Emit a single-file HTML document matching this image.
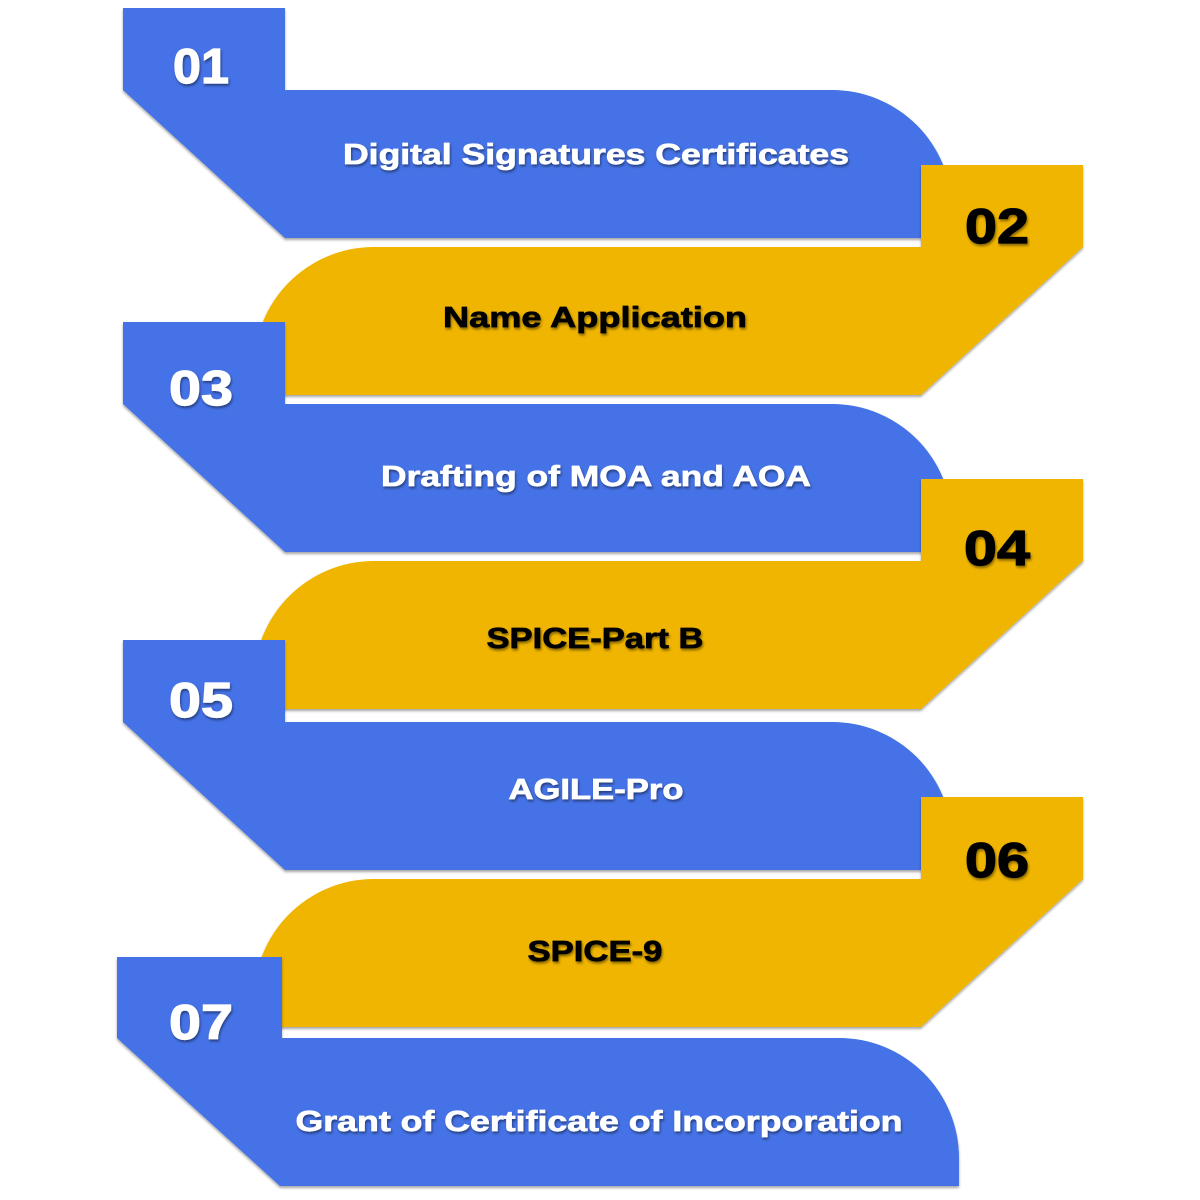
<!DOCTYPE html>
<html>
<head>
<meta charset="utf-8">
<style>
  html, body { margin: 0; padding: 0; background: #ffffff; }
  body { width: 1200px; height: 1200px; overflow: hidden; }
  svg { display: block; }
  .lbl { font-family: "Liberation Sans", "DejaVu Sans", sans-serif; font-weight: 700; }
</style>
</head>
<body>
<svg width="1200" height="1200" viewBox="0 0 1200 1200" xmlns="http://www.w3.org/2000/svg">
  <defs>
    <filter id="sh" x="-5%" y="-5%" width="110%" height="115%">
      <feDropShadow dx="0" dy="2" stdDeviation="1.2" flood-color="#000" flood-opacity="0.35"/>
    </filter>
    <filter id="tsh" x="-5%" y="-20%" width="110%" height="150%">
      <feDropShadow dx="1" dy="2" stdDeviation="1.2" flood-color="#000" flood-opacity="0.45"/>
    </filter>
  </defs>
  <rect width="1200" height="1200" fill="#ffffff"/>

  <!-- 01 blue -->
  <path filter="url(#sh)" fill="#4472E6" d="M123,8 L285,8 L285,90 L832,90 A120,120 0 0 1 952,210 L952,238 L285,238 L123,90 Z"/>
  <!-- 02 yellow -->
  <path filter="url(#sh)" fill="#F0B505" d="M1083,165 L921,165 L921,247 L374,247 A120,120 0 0 0 254,367 L254,395 L921,395 L1083,247 Z"/>
  <!-- 03 blue -->
  <path filter="url(#sh)" fill="#4472E6" d="M123,322 L285,322 L285,404 L832,404 A120,120 0 0 1 952,524 L952,552 L285,552 L123,404 Z"/>
  <!-- 04 yellow -->
  <path filter="url(#sh)" fill="#F0B505" d="M1083,479 L921,479 L921,561 L374,561 A120,120 0 0 0 254,681 L254,709 L921,709 L1083,561 Z"/>
  <!-- 05 blue -->
  <path filter="url(#sh)" fill="#4472E6" d="M123,640 L285,640 L285,722 L832,722 A120,120 0 0 1 952,842 L952,870 L285,870 L123,722 Z"/>
  <!-- 06 yellow -->
  <path filter="url(#sh)" fill="#F0B505" d="M1083,797 L921,797 L921,879 L374,879 A120,120 0 0 0 254,999 L254,1027 L921,1027 L1083,879 Z"/>
  <!-- 07 blue -->
  <path filter="url(#sh)" fill="#4472E6" d="M117,957 L282,957 L282,1038 L839,1038 A120,120 0 0 1 959,1158 L959,1186 L280,1186 L117,1038 Z"/>

  <!-- Numbers -->
  <g class="lbl" font-size="49" text-anchor="middle" filter="url(#tsh)">
    <text x="201" y="83" fill="#ffffff" stroke="#ffffff" stroke-width="1.2" textLength="56" lengthAdjust="spacingAndGlyphs">01</text>
    <text x="997" y="243" fill="#000000" stroke="#000000" stroke-width="1.2" textLength="64" lengthAdjust="spacingAndGlyphs">02</text>
    <text x="201" y="405" fill="#ffffff" stroke="#ffffff" stroke-width="1.2" textLength="64" lengthAdjust="spacingAndGlyphs">03</text>
    <text x="997" y="565" fill="#000000" stroke="#000000" stroke-width="1.2" textLength="66" lengthAdjust="spacingAndGlyphs">04</text>
    <text x="201" y="717" fill="#ffffff" stroke="#ffffff" stroke-width="1.2" textLength="64" lengthAdjust="spacingAndGlyphs">05</text>
    <text x="997" y="877" fill="#000000" stroke="#000000" stroke-width="1.2" textLength="64" lengthAdjust="spacingAndGlyphs">06</text>
    <text x="201" y="1039" fill="#ffffff" stroke="#ffffff" stroke-width="1.2" textLength="64" lengthAdjust="spacingAndGlyphs">07</text>
  </g>

  <!-- Labels -->
  <g class="lbl" font-size="29" text-anchor="middle" filter="url(#tsh)">
    <text x="596" y="164" fill="#ffffff" stroke="#ffffff" stroke-width="0.7" textLength="506" lengthAdjust="spacingAndGlyphs">Digital Signatures Certificates</text>
    <text x="595" y="327" fill="#000000" stroke="#000000" stroke-width="0.7" textLength="304" lengthAdjust="spacingAndGlyphs">Name Application</text>
    <text x="596" y="486" fill="#ffffff" stroke="#ffffff" stroke-width="0.7" textLength="430" lengthAdjust="spacingAndGlyphs">Drafting of MOA and AOA</text>
    <text x="595" y="648" fill="#000000" stroke="#000000" stroke-width="0.7" textLength="217" lengthAdjust="spacingAndGlyphs">SPICE-Part B</text>
    <text x="596" y="799" fill="#ffffff" stroke="#ffffff" stroke-width="0.7" textLength="175" lengthAdjust="spacingAndGlyphs">AGILE-Pro</text>
    <text x="595" y="961" fill="#000000" stroke="#000000" stroke-width="0.7" textLength="135" lengthAdjust="spacingAndGlyphs">SPICE-9</text>
    <text x="599" y="1131" fill="#ffffff" stroke="#ffffff" stroke-width="0.7" textLength="607" lengthAdjust="spacingAndGlyphs">Grant of Certificate of Incorporation</text>
  </g>
</svg>
</body>
</html>
